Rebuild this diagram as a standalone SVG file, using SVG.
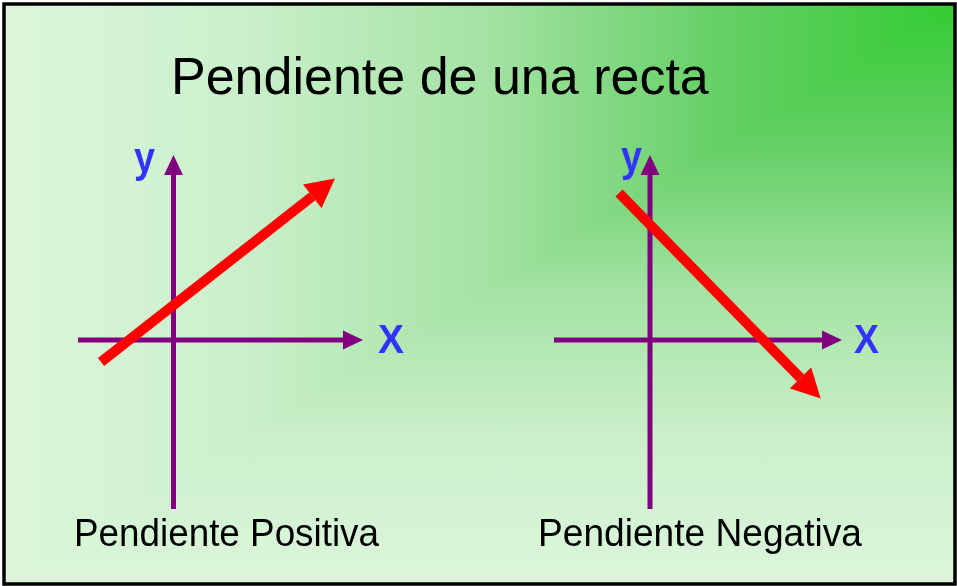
<svg xmlns="http://www.w3.org/2000/svg" width="957" height="586" viewBox="0 0 957 586">
<style>
.axis{stroke:#800080;stroke-width:5;fill:none}
.slope{stroke:#ff0000;stroke-width:10;fill:none}
.lbl{font-family:"Liberation Sans",Arial,sans-serif;fill:#000}
.ax{font-family:"Liberation Sans",Arial,sans-serif;font-weight:bold;fill:#3333ff}
</style>
<defs>
<linearGradient id="gh" gradientUnits="userSpaceOnUse" x1="956" y1="0" x2="4" y2="0">
<stop offset="0" stop-color="#33cc33"/><stop offset="0.25" stop-color="#66d066"/><stop offset="0.5" stop-color="#a5e3a5"/><stop offset="0.75" stop-color="#cbf0cb"/><stop offset="1" stop-color="#dcf6dc"/>
</linearGradient>
<linearGradient id="gv" gradientUnits="userSpaceOnUse" x1="0" y1="4" x2="0" y2="585">
<stop offset="0" stop-color="#33cc33"/><stop offset="0.25" stop-color="#66d066"/><stop offset="0.5" stop-color="#a5e3a5"/><stop offset="0.75" stop-color="#cbf0cb"/><stop offset="1" stop-color="#dcf6dc"/>
</linearGradient>
<marker id="ah" markerUnits="userSpaceOnUse" markerWidth="20" markerHeight="20" viewBox="0 -8 17 16" refX="0" refY="0" orient="auto">
<path d="M0,-8 L17,0 L0,8 Z" fill="#800080"/>
</marker>
<marker id="rh" markerUnits="userSpaceOnUse" markerWidth="30" markerHeight="30" viewBox="0 -13 25 26" refX="0" refY="0" orient="auto">
<path d="M0,-13 L25,0 L0,13 Z" fill="#ff0000"/>
</marker>
</defs>
<g id="background">
<rect x="4" y="4" width="952" height="581" fill="url(#gh)"/>
<rect x="4" y="4" width="952" height="581" fill="url(#gv)" style="mix-blend-mode:lighten"/>
<rect x="4" y="4" width="951" height="580" fill="none" stroke="#000" stroke-width="3.5"/>
</g>
<g id="title"><text class="lbl" x="171" y="94" font-size="52">Pendiente de una recta</text></g>
<g id="connectors">
<line class="axis" x1="78" y1="340" x2="343" y2="340" marker-end="url(#ah)"/>
<line class="axis" x1="173.5" y1="509" x2="173.5" y2="175" marker-end="url(#ah)"/>
<line class="axis" x1="554" y1="340" x2="822" y2="340" marker-end="url(#ah)"/>
<line class="axis" x1="650" y1="509" x2="650" y2="175" marker-end="url(#ah)"/>
<line class="slope" x1="101" y1="362" x2="312.3" y2="196.4" marker-end="url(#rh)"/>
<line class="slope" x1="619" y1="193" x2="800.5" y2="378" marker-end="url(#rh)"/>
</g>
<g id="positive-graph">
<text class="ax" x="134" y="172" font-size="43" textLength="21" lengthAdjust="spacingAndGlyphs">y</text>
<text class="ax" x="378" y="353" font-size="41" textLength="26" lengthAdjust="spacingAndGlyphs">X</text>
<text class="lbl" x="74" y="546" font-size="38" textLength="305" lengthAdjust="spacingAndGlyphs">Pendiente Positiva</text>
</g>
<g id="negative-graph">
<text class="ax" x="621" y="171" font-size="43" textLength="21" lengthAdjust="spacingAndGlyphs">y</text>
<text class="ax" x="854" y="353" font-size="41" textLength="25" lengthAdjust="spacingAndGlyphs">X</text>
<text class="lbl" x="538" y="546" font-size="38" textLength="324" lengthAdjust="spacingAndGlyphs">Pendiente Negativa</text>
</g>
</svg>
